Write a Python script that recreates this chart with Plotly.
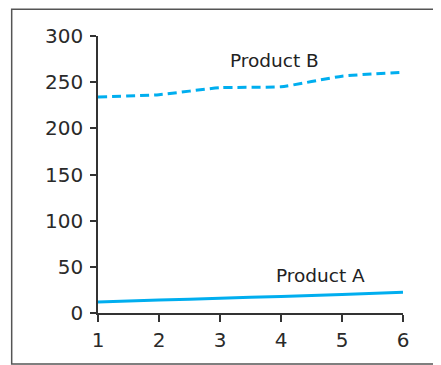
import plotly.graph_objects as go

periods = [1, 2, 3, 4, 5, 6]
product_a = [12, 14, 16, 18, 20, 22.4]
product_b = [234, 236.5, 244, 245, 256.5, 260.8]
y_ticks = [0, 50, 100, 150, 200, 250, 300]

color = "#00AEEF"
axis_col = "#333333"
font_family = "'DejaVu Sans', sans-serif"

fig = go.Figure()
fig.add_trace(go.Scatter(x=periods, y=product_b, mode="lines",
                         line=dict(color=color, width=3, dash="9px,5px", shape="spline", smoothing=0.5),
                         showlegend=False, hoverinfo="skip", cliponaxis=False))
fig.add_trace(go.Scatter(x=periods, y=product_a, mode="lines",
                         line=dict(color=color, width=3, shape="spline", smoothing=0.5),
                         showlegend=False, hoverinfo="skip", cliponaxis=False))

fig.add_annotation(x=3.9, y=274, text="Product B", showarrow=False,
                   font=dict(size=18.5, color="#222222", family=font_family))
fig.add_annotation(x=4.64, y=41, text="Product A", showarrow=False,
                   font=dict(size=18.5, color="#222222", family=font_family))

fig.update_layout(
    width=441, height=365,
    margin=dict(l=90, r=46, t=28, b=60),
    paper_bgcolor="white", plot_bgcolor="white",
    font=dict(family=font_family, size=20, color="#2a2a2a"),
    xaxis=dict(range=[1, 6], tickvals=periods, ticks="outside", ticklen=7,
               tickwidth=1.5, tickcolor=axis_col, showline=True, linecolor=axis_col,
               linewidth=1.5, showgrid=False, zeroline=False, fixedrange=True,
               automargin=False, ticklabelstandoff=1),
    yaxis=dict(range=[0, 300], tickvals=y_ticks, ticks="outside", ticklen=6,
               tickwidth=1.5, tickcolor=axis_col, showline=True, linecolor=axis_col,
               linewidth=1.5, showgrid=False, zeroline=False, fixedrange=True,
               automargin=False, ticklabelstandoff=3),
    shapes=[dict(type="rect", xref="paper", yref="paper",
                 x0=-0.283, x1=1.2, y0=-0.184, y1=1.097,
                 line=dict(color="#555555", width=1.5), layer="below")],
)

fig.write_html("out.html")
